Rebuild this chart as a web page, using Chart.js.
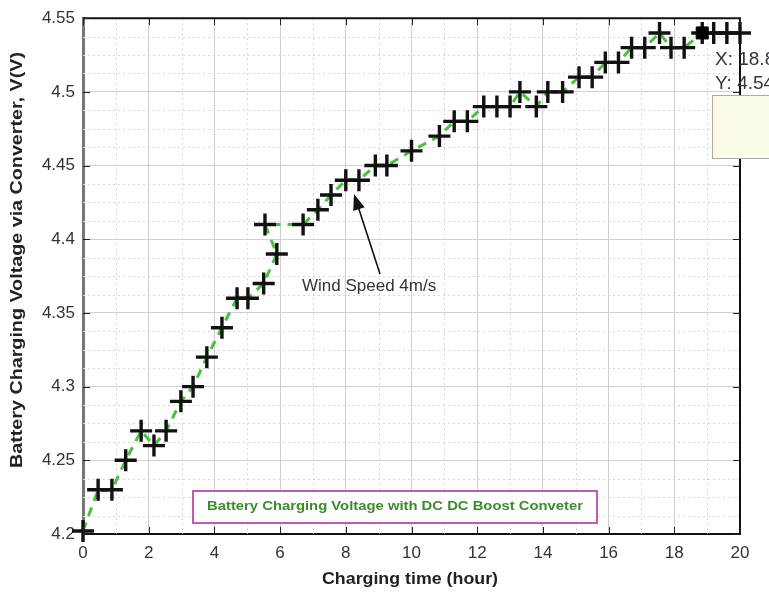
<!DOCTYPE html>
<html><head><meta charset="utf-8">
<script src="https://cdn.jsdelivr.net/npm/chart.js@4"></script>
<style>html,body{margin:0;padding:0;background:#fff}canvas{display:block}</style>
</head><body>
<canvas id="c" width="769" height="595"></canvas>
<script>
// ---- data ----
const chargeTime = [0,0.46,0.88,1.3,1.77,2.16,2.53,2.98,3.35,3.77,4.23,4.69,5.02,5.5,5.9,5.54,6.7,7.15,7.55,8.0,8.4,8.9,9.25,10.0,10.85,11.3,11.7,12.2,12.6,13.0,13.3,13.8,14.15,14.6,15.1,15.5,15.9,16.3,16.7,17.1,17.55,17.9,18.3,18.85,19.2,19.6,20.0];
const chargeVolt = [4.202,4.23,4.23,4.25,4.27,4.26,4.27,4.29,4.30,4.32,4.34,4.36,4.36,4.37,4.39,4.41,4.41,4.42,4.43,4.44,4.44,4.45,4.45,4.46,4.47,4.48,4.48,4.49,4.49,4.49,4.50,4.49,4.50,4.50,4.51,4.51,4.52,4.52,4.53,4.53,4.54,4.53,4.53,4.54,4.54,4.54,4.54];
const tipTime = [18.85];
const tipVolt = [4.54];
const xTickValues = [0,2,4,6,8,10,12,14,16,18,20];
const xTickLabels = ['0','2','4','6','8','10','12','14','16','18','20'];
const yTickValues = [4.2,4.25,4.3,4.35,4.4,4.45,4.5,4.55];
const yTickLabels = ['4.2','4.25','4.3','4.35','4.4','4.45','4.5','4.55'];
const xMinorValues = [1,3,5,7,9,11,13,15,17,19];
const yMinorValues = [4.2125,4.225,4.2375,4.2625,4.275,4.2875,4.3125,4.325,4.3375,4.3625,4.375,4.3875,4.4125,4.425,4.4375,4.4625,4.475,4.4875,4.5125,4.525,4.5375];
const legendLabel = 'Battery Charging Voltage with DC DC Boost Conveter';
const xTitle = 'Charging time (hour)';
const yTitle = 'Battery Charging Voltage via Converter, V(V)';
const noteText = 'Wind Speed 4m/s';
const tipLines = ['X: 18.85', 'Y: 4.54'];

const FONT = '"Liberation Sans", Arial, sans-serif';

function stretchText(ctx, text, cx, cy, targetW, font, color, rot) {
  ctx.save();
  ctx.font = font;
  ctx.fillStyle = color;
  ctx.textAlign = 'center';
  ctx.textBaseline = 'middle';
  const w = ctx.measureText(text).width;
  ctx.translate(cx, cy);
  if (rot) ctx.rotate(rot);
  ctx.scale(targetW / w, 1);
  ctx.fillText(text, 0, 0);
  ctx.restore();
}

const decor = {
  id: 'decor',
  beforeDatasetsDraw(chart) {
    const {ctx, chartArea: a, scales: {x, y}} = chart;
    ctx.save();
    ctx.strokeStyle = '#d6d6d6';
    ctx.lineWidth = 1;
    ctx.setLineDash([2, 3]);
    xMinorValues.forEach(v => {
      const px = Math.round(x.getPixelForValue(v)) + 0.5;
      ctx.beginPath(); ctx.moveTo(px, a.top); ctx.lineTo(px, a.bottom); ctx.stroke();
    });
    yMinorValues.forEach(v => {
      const py = Math.round(y.getPixelForValue(v)) + 0.5;
      ctx.beginPath(); ctx.moveTo(a.left, py); ctx.lineTo(a.right, py); ctx.stroke();
    });
    ctx.restore();
  },
  afterDraw(chart) {
    const {ctx, chartArea: a, scales: {x, y}} = chart;
    ctx.save();
    // top and right box lines
    ctx.strokeStyle = '#111';
    ctx.lineWidth = 2;
    ctx.beginPath();
    ctx.moveTo(a.left, a.top); ctx.lineTo(a.right, a.top); ctx.lineTo(a.right, a.bottom);
    ctx.stroke();
    // inward ticks
    ctx.lineWidth = 1;
    ctx.strokeStyle = '#222';
    const L = 7;
    xTickValues.forEach(v => {
      const px = Math.round(x.getPixelForValue(v)) + 0.5;
      ctx.beginPath();
      ctx.moveTo(px, a.bottom); ctx.lineTo(px, a.bottom - L);
      ctx.moveTo(px, a.top); ctx.lineTo(px, a.top + L);
      ctx.stroke();
    });
    yTickValues.forEach(v => {
      const py = Math.round(y.getPixelForValue(v)) + 0.5;
      ctx.beginPath();
      ctx.moveTo(a.left, py); ctx.lineTo(a.left + L, py);
      ctx.moveTo(a.right, py); ctx.lineTo(a.right - L, py);
      ctx.stroke();
    });
    // legend box
    ctx.fillStyle = '#fff';
    ctx.fillRect(193, 491, 404, 32);
    ctx.strokeStyle = '#c457b8';
    ctx.lineWidth = 2;
    ctx.strokeRect(193, 491, 404, 32);
    stretchText(ctx, legendLabel, 395, 507, 376, 'bold 12px ' + FONT, '#3c8c2c', 0);
    // annotation arrow
    const tx = 354, ty = 194, sx = 380, sy = 274;
    ctx.strokeStyle = '#111';
    ctx.fillStyle = '#111';
    ctx.lineWidth = 1.6;
    const ang = Math.atan2(ty - sy, tx - sx);
    ctx.beginPath(); ctx.moveTo(sx, sy); ctx.lineTo(tx - 10 * Math.cos(ang), ty - 10 * Math.sin(ang)); ctx.stroke();
    ctx.beginPath();
    ctx.moveTo(tx, ty);
    ctx.lineTo(tx - 16 * Math.cos(ang) + 6 * Math.sin(ang), ty - 16 * Math.sin(ang) - 6 * Math.cos(ang));
    ctx.lineTo(tx - 16 * Math.cos(ang) - 6 * Math.sin(ang), ty - 16 * Math.sin(ang) + 6 * Math.cos(ang));
    ctx.closePath(); ctx.fill();
    ctx.font = '17px ' + FONT;
    ctx.fillStyle = '#333';
    ctx.textAlign = 'left';
    ctx.textBaseline = 'middle';
    ctx.fillText(noteText, 302, 286);
    // data tip
    ctx.fillStyle = '#fcfbea';
    ctx.fillRect(712, 95, 60, 63);
    ctx.strokeStyle = '#aaa';
    ctx.lineWidth = 1;
    ctx.strokeRect(712.5, 95.5, 60, 63);
    ctx.fillStyle = '#334';
    ctx.font = '19px ' + FONT;
    ctx.fillText(tipLines[0], 715, 60);
    ctx.fillText(tipLines[1], 715, 84);
    // axis titles
    stretchText(ctx, xTitle, 410, 580, 176, 'bold 16px ' + FONT, '#222', 0);
    stretchText(ctx, yTitle, 18, 260, 416, 'bold 16px ' + FONT, '#222', -Math.PI / 2);
    ctx.restore();
  }
};

new Chart(document.getElementById('c'), {
  type: 'scatter',
  data: {
    datasets: [
      {
        data: tipTime.map((t, i) => ({x: t, y: tipVolt[i]})),
        showLine: false,
        pointStyle: 'rect',
        pointRadius: 8.5,
        pointBackgroundColor: '#000',
        pointBorderColor: '#000',
        pointBorderWidth: 1,
        clip: false,
        order: 0
      },
      {
        data: chargeTime.map((t, i) => ({x: t, y: chargeVolt[i]})),
        showLine: true,
        borderColor: '#45c43a',
        borderWidth: 3,
        borderDash: [9, 7],
        pointStyle: 'cross',
        pointRadius: 11,
        pointBorderWidth: 3.4,
        pointBorderColor: '#111',
        pointBackgroundColor: '#111',
        clip: false,
        order: 1
      }
    ]
  },
  options: {
    responsive: false,
    animation: false,
    devicePixelRatio: 1,
    events: [],
    layout: {padding: {top: 18, right: 29, left: 0, bottom: 0}},
    plugins: {legend: {display: false}, tooltip: {enabled: false}},
    scales: {
      x: {
        type: 'linear', min: 0, max: 20,
        afterBuildTicks: s => { s.ticks = xTickValues.map(v => ({value: v})); },
        afterFit: s => { s.height = 61; },
        ticks: {callback: (v, i) => xTickLabels[i], font: {family: FONT, size: 17}, color: '#333', padding: 9, maxRotation: 0, autoSkip: false},
        grid: {color: '#cfcfcf', drawTicks: false},
        border: {color: '#111', width: 2}
      },
      y: {
        type: 'linear', min: 4.2, max: 4.55,
        afterBuildTicks: s => { s.ticks = yTickValues.map(v => ({value: v})); },
        afterFit: s => { s.width = 83; },
        ticks: {callback: (v, i) => yTickLabels[i], font: {family: FONT, size: 17}, color: '#333', padding: 8, autoSkip: false},
        grid: {color: '#cfcfcf', drawTicks: false},
        border: {color: '#777', width: 3}
      }
    }
  },
  plugins: [decor]
});
</script>
</body></html>
